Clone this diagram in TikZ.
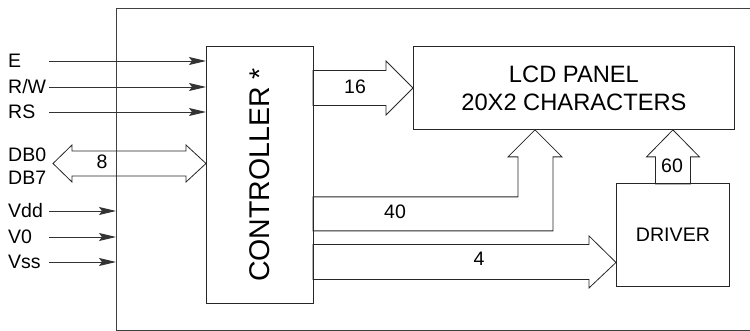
\documentclass[tikz,border=0pt]{standalone}
\usepackage{fontspec}
\setmainfont{Liberation Sans}
\usetikzlibrary{arrows.meta,calc}

\tikzset{
  blk/.style={draw=black!85, line width=0.9pt, inner sep=0pt, anchor=north west},
  pin/.style={anchor=west, inner sep=0pt, text height=14pt, text depth=0pt,
    font=\fontsize{19.5}{22}\selectfont},
  sig/.style={draw=black!80, line width=0.9pt,
    -{Stealth[length=17pt,width=8pt,inset=3pt]}},
  bus/.style={draw=black!85, line width=0.8pt, line join=miter},
  num/.style={inner sep=0pt, font=\fontsize{19.5}{22}\selectfont},
}

\begin{document}
\begin{tikzpicture}[x=1pt,y=-1pt]
    \useasboundingbox (0,0) rectangle (750,331) ;
    % module outline (runs off the right edge) and blocks
    \node[inner sep=0pt, anchor=north west, minimum width=660pt, minimum height=322pt] %
      (lcm) at (116,8) {} ;
    \draw[draw=black!75, line width=0.9pt] (lcm.north east) -- (lcm.north west) %
      -- (lcm.south west) -- (lcm.south east) ;
    \node[blk, minimum width=107pt, minimum height=257pt, font=\fontsize{28.5}{30}\selectfont] %
      (ctrl) at (206,46) {\rotatebox{90}{CONTROLLER *}} ;
    \node[blk, minimum width=321pt, minimum height=83pt, align=center, %
      font=\fontsize{23.7}{28}\selectfont] (lcd) at (413,46) {LCD PANEL\\20X2 CHARACTERS} ;
    \node[blk, minimum width=113pt, minimum height=103pt, font=\fontsize{19.6}{22}\selectfont] %
      (drv) at (616,183) {DRIVER} ;
    % pins
    \node[pin] (pE) at (8,61) {E} ;
    \node[pin] (pRW) at (8,87) {R/W} ;
    \node[pin] (pRS) at (8,112) {RS} ;
    \node[pin] (pDB0) at (8,155) {DB0} ;
    \node[pin] (pDB7) at (8,178) {DB7} ;
    \node[pin] (pVdd) at (8,211) {Vdd} ;
    \node[pin] (pV0) at (8,237) {V0} ;
    \node[pin] (pVss) at (8,262) {Vss} ;
    \coordinate (in) at (49,0) ;
    \coordinate (db) at (53,163.5) ;
    \draw[sig] (pE -| in) -- (pE -| ctrl.west) ;
    \draw[sig] (pRW -| in) -- (pRW -| ctrl.west) ;
    \draw[sig] (pRS -| in) -- (pRS -| ctrl.west) ;
    \draw[sig] (pVdd -| in) -- (pVdd -| lcm.west) ;
    \draw[sig] (pV0 -| in) -- (pV0 -| lcm.west) ;
    \draw[sig] (pVss -| in) -- (pVss -| lcm.west) ;
    % buses
    \draw[bus] (db) -- ++(19,-18.5) -- ++(0,6) -- ++(114,0) -- ++(0,-6) -- ++(20,18.5) %
      -- ++(-20,18.5) -- ++(0,-6) -- ++(-114,0) -- ++(0,6) -- cycle ;
    \draw[bus] (lcd.west) -- ++(-27,-27) -- ++(0,9.5) -- ++(-73,0) -- ++(0,35) %
      -- ++(73,0) -- ++(0,9.5) -- cycle ;
    \draw[bus] ($(lcd.south west)+(122,0)$) -- ++(27,27) -- ++(-9,0) -- ++(0,74) %
      -- ++(-240,0) -- ++(0,-34) -- ++(205,0) -- ++(0,-40) -- ++(-10,0) -- cycle ;
    \draw[bus] ($(drv.west)+(0,27.5)$) -- ++(-27,-26.5) -- ++(0,8.5) -- ++(-276,0) %
      -- ++(0,35) -- ++(276,0) -- ++(0,8.5) -- cycle ;
    \draw[bus] (drv.north |- lcd.south) -- ++(26.5,27) -- ++(-9,0) -- ++(0,27) %
      -- ++(-35,0) -- ++(0,-27) -- ++(-9,0) -- cycle ;
    \node[num] (n8) at (102,162) {8} ;
    \node[num] (n16) at (355,87) {16} ;
    \node[num] (n40) at (395,211.5) {40} ;
    \node[num] (n4) at (479,259) {4} ;
    \node[num] (n60) at (672,166) {60} ;
\end{tikzpicture}
\end{document}
